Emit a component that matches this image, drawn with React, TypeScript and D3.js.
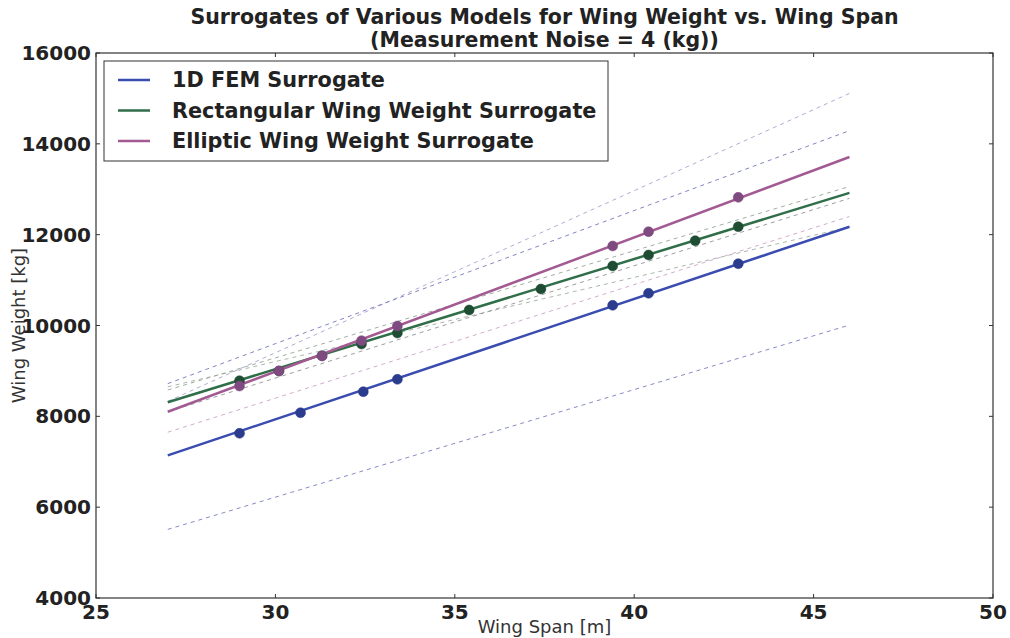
import React from "react";
import { scaleLinear, line } from "d3";

// surrogate fits, sampled at both ends of the span range
const lineSpans = [27, 46];
const femLine = [7140, 12175];
const rectLine = [8310, 12920];
const ellipLine = [8100, 13710];

// measured points
const femSpans = [29.0, 30.7, 32.45, 33.4, 39.4, 40.4, 42.9];
const femWeights = [7626, 8079, 8542, 8815, 10444, 10709, 11360];
const rectSpans = [29.0, 30.1, 31.3, 32.4, 33.4, 35.4, 37.4, 39.4, 40.4, 41.7, 42.9];
const rectWeights = [8784, 8998, 9335, 9592, 9834, 10341, 10803, 11310, 11552, 11867, 12175];
const ellipSpans = [29.0, 30.1, 31.3, 32.4, 33.4, 39.4, 40.4, 42.9];
const ellipWeights = [8667, 9000, 9330, 9665, 9989, 11750, 12065, 12822];

// faint noisy-sample surrogates (dashed)
const noiseStart = [8330, 8720, 8580, 8650, 8100, 7650, 5510];
const noiseEnd = [15110, 14290, 13060, 12170, 12800, 12400, 10010];
const noiseColors = ["#a59ccb", "#6c6fb6", "#8fa08f", "#9aaa9c", "#8c8c8c", "#c99ec5", "#7275bb"];

const xTicks = [25, 30, 35, 40, 45, 50];
const yTicks = [4000, 6000, 8000, 10000, 12000, 14000, 16000];

const legendNames = ["1D FEM Surrogate", "Rectangular Wing Weight Surrogate", "Elliptic Wing Weight Surrogate"];
const lineColors = ["#3b4cb0", "#2f6e48", "#a35a92"];
const dotColors = ["#2b3b8e", "#1f4d34", "#7e4a80"];

const margin = { left: 96, right: 17, top: 53, bottom: 40 };
const W = 1010;
const H = 638;

const App = () => {
  const x = scaleLinear().domain([25, 50]).range([margin.left, W - margin.right]);
  const y = scaleLinear().domain([4000, 16000]).range([H - margin.bottom, margin.top]);
  const path = line<[number, number]>()
    .x((d) => x(d[0]))
    .y((d) => y(d[1]));

  const solid = [femLine, rectLine, ellipLine];
  const pts = [
    [femSpans, femWeights],
    [rectSpans, rectWeights],
    [ellipSpans, ellipWeights],
  ];
  const font = "'DejaVu Sans', sans-serif";
  const x0 = x(25), x1 = x(50), y0 = y(4000), y1 = y(16000);

  return (
    <svg width={W} height={H} style={{ position: "absolute", left: 0, top: 0, background: "#fff" }} fontFamily={font}>
      <text x={(x0 + x1) / 2} y={24} textAnchor="middle" fontSize={20.5} fontWeight="bold" fill="#222">
        Surrogates of Various Models for Wing Weight vs. Wing Span
      </text>
      <text x={(x0 + x1) / 2} y={47} textAnchor="middle" fontSize={20.5} fontWeight="bold" fill="#222">
        (Measurement Noise = 4 (kg))
      </text>

      {noiseStart.map((s, i) => (
        <path
          key={"n" + i}
          d={path(lineSpans.map((sp, j) => [sp, j === 0 ? s : noiseEnd[i]]) as [number, number][]) || ""}
          fill="none"
          stroke={noiseColors[i]}
          strokeWidth={1}
          strokeDasharray="4,4"
          opacity={0.85}
        />
      ))}

      {solid.map((vals, i) => (
        <path
          key={"s" + i}
          d={path(lineSpans.map((sp, j) => [sp, vals[j]]) as [number, number][]) || ""}
          fill="none"
          stroke={lineColors[i]}
          strokeWidth={2.5}
        />
      ))}

      {pts.map(([sp, wt], i) =>
        sp.map((s, j) => (
          <circle key={"p" + i + "-" + j} cx={x(s)} cy={y(wt[j])} r={5} fill={dotColors[i]} stroke={dotColors[i]} strokeWidth={0.5} />
        ))
      )}

      <rect x={x0} y={y1} width={x1 - x0} height={y0 - y1} fill="none" stroke="#333" strokeWidth={1.2} />

      {xTicks.map((t) => (
        <g key={"xt" + t}>
          <line x1={x(t)} x2={x(t)} y1={y0} y2={y0 - 4} stroke="#333" />
          <line x1={x(t)} x2={x(t)} y1={y1} y2={y1 + 4} stroke="#333" />
          <text x={x(t)} y={y0 + 21} textAnchor="middle" fontSize={20} fontWeight="bold" fill="#222">
            {t}
          </text>
        </g>
      ))}
      {yTicks.map((t) => (
        <g key={"yt" + t}>
          <line x1={x0} x2={x0 + 4} y1={y(t)} y2={y(t)} stroke="#333" />
          <line x1={x1} x2={x1 - 4} y1={y(t)} y2={y(t)} stroke="#333" />
          <text x={x0 - 5} y={y(t) + 7} textAnchor="end" fontSize={20} fontWeight="bold" fill="#222">
            {t}
          </text>
        </g>
      ))}

      <text x={(x0 + x1) / 2} y={633} textAnchor="middle" fontSize={18} fill="#333">
        Wing Span [m]
      </text>
      <text
        transform={`translate(25,${(y0 + y1) / 2}) rotate(-90)`}
        textAnchor="middle"
        fontSize={18}
        fill="#333"
      >
        Wing Weight [kg]
      </text>

      <rect x={104} y={61} width={504} height={100} fill="#fff" stroke="#333" strokeWidth={1} />
      {legendNames.map((name, i) => (
        <g key={"l" + i} transform={`translate(118,${80 + i * 30.5})`}>
          <line x1={0} x2={32} y1={0} y2={0} stroke={lineColors[i]} strokeWidth={2.5} />
          <text x={54} y={7} fontSize={20.8} fontWeight="bold" fill="#222">
            {name}
          </text>
        </g>
      ))}
    </svg>
  );
};

export default App;
